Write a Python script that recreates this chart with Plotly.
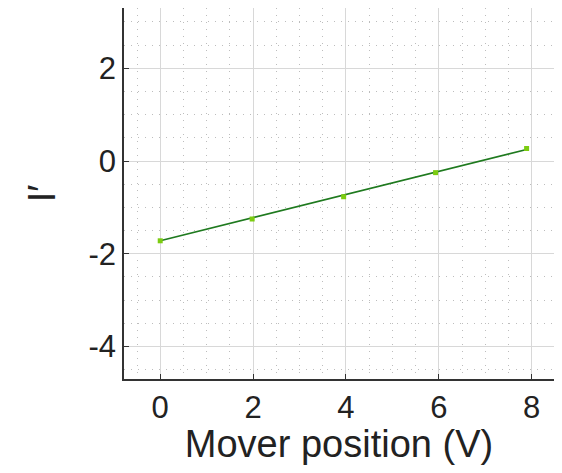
import plotly.graph_objects as go

x_pos = [0.0, 1.98, 3.95, 5.93, 7.89]
y_meas = [-1.72, -1.25, -0.77, -0.25, 0.27]
fit_x = [0.0, 7.89]
fit_y = [-1.72, 0.25]

x_ticks = [0, 2, 4, 6, 8]
x_labels = ["0", "2", "4", "6", "8"]
y_ticks = [-4, -2, 0, 2]
y_labels = ["-4", "-2", "0", "2"]

fig = go.Figure()
fig.add_trace(go.Scatter(x=fit_x, y=fit_y, mode="lines",
                         line=dict(color="#1f7a1f", width=1.6),
                         showlegend=False))
fig.add_trace(go.Scatter(x=x_pos, y=y_meas, mode="markers",
                         marker=dict(symbol="square", size=5, color="#7ccc11"),
                         showlegend=False))

font = "Liberation Sans, Arial, sans-serif"
fig.update_layout(
    width=546, height=457,
    margin=dict(l=116, r=0, t=0, b=86),
    plot_bgcolor="white", paper_bgcolor="white",
    font=dict(family=font, color="#222222"),
    xaxis=dict(range=[-0.78, 8.48], tickvals=x_ticks, ticktext=x_labels,
               ticks="inside", ticklen=5,
               tickcolor="#333", tickfont=dict(size=31),
               showline=True, linecolor="#333", linewidth=1.5,
               showgrid=True, gridcolor="#d8d8d8", gridwidth=1,
               minor=dict(dtick=0.5, tick0=0, showgrid=True, gridcolor="#bdbdbd",
                          griddash="1px,6px", gridwidth=1),
               zeroline=False,
               title=dict(text="Mover position (V)", font=dict(size=38), standoff=6)),
    yaxis=dict(range=[-4.7, 3.3], tickvals=y_ticks, ticktext=y_labels,
               ticks="inside", ticklen=5,
               tickcolor="#333", tickfont=dict(size=31),
               showline=True, linecolor="#333", linewidth=1.5,
               showgrid=True, gridcolor="#d8d8d8", gridwidth=1,
               minor=dict(dtick=0.5, tick0=0, showgrid=True, gridcolor="#bdbdbd",
                          griddash="1px,6px", gridwidth=1),
               zeroline=False,
               title=dict(text="I′", font=dict(size=38), standoff=21)),
)
fig.write_html("out.html")
